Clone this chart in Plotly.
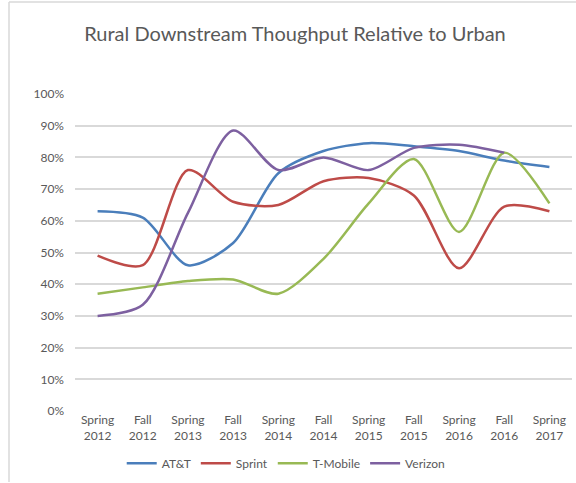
import plotly.graph_objects as go

# survey periods
periods = ['Spring<br>2012', 'Fall<br>2012', 'Spring<br>2013', 'Fall<br>2013', 'Spring<br>2014',
           'Fall<br>2014', 'Spring<br>2015', 'Fall<br>2015', 'Spring<br>2016', 'Fall<br>2016',
           'Spring<br>2017']

# rural throughput as share of urban
att = [0.63, 0.61, 0.46, 0.53, 0.75, 0.82, 0.845, 0.835, 0.82, 0.79, 0.77]
sprint = [0.49, 0.46, 0.76, 0.66, 0.65, 0.725, 0.735, 0.68, 0.45, 0.645, 0.63]
tmobile = [0.37, 0.39, 0.41, 0.415, 0.37, 0.48, 0.655, 0.795, 0.565, 0.815, 0.655]
verizon = [0.30, 0.335, 0.625, 0.885, 0.76, 0.80, 0.76, 0.83, 0.84, 0.815, None]

series = [('AT&T', att, '#4A7EBB'),
          ('Sprint', sprint, '#BE4B48'),
          ('T-Mobile', tmobile, '#98B954'),
          ('Verizon', verizon, '#7D60A0')]

font_family = 'Lato, Open Sans, sans-serif'
text_color = '#595959'

fig = go.Figure()
for name, vals, color in series:
    fig.add_trace(go.Scatter(
        x=periods, y=vals, name=name, mode='lines',
        line=dict(color=color, width=2.5, shape='spline', smoothing=0.8),
        connectgaps=False,
    ))

fig.update_layout(
    width=576, height=483,
    margin=dict(l=75, r=4, t=94, b=72),
    paper_bgcolor='white', plot_bgcolor='white',
    font=dict(family=font_family, color=text_color, size=12),
    title=dict(text='Rural Downstream Thoughput Relative to Urban',
               x=295 / 576, xanchor='center', y=1 - 34 / 483, yanchor='middle',
               font=dict(size=20, color=text_color)),
    showlegend=True,
    legend=dict(orientation='h', x=0.425, xanchor='center', y=-0.165, yanchor='middle',
                font=dict(size=12, color=text_color), itemwidth=30,
                tracegroupgap=0, traceorder='normal'),
    xaxis=dict(range=[-0.5, 10.5], showgrid=False, zeroline=False, showline=False,
               ticks='', tickfont=dict(size=12, color=text_color)),
    yaxis=dict(range=[0, 1], dtick=0.1, tickformat='.0%', showgrid=True,
               gridcolor='#D9D9D9', gridwidth=1.5, zeroline=False, showline=False,
               ticks='', ticklabelstandoff=10, tickfont=dict(size=12, color=text_color)),
    shapes=[
        dict(type='line', xref='paper', yref='paper',
             x0=(9 - 75) / 497, x1=(9 - 75) / 497, y0=(411 - 2) / 317, y1=(411 - 482) / 317,
             line=dict(color='#D9D9D9', width=1.5)),
        dict(type='line', xref='paper', yref='paper',
             x0=(9 - 75) / 497, x1=(580 - 75) / 497, y0=(411 - 2) / 317, y1=(411 - 2) / 317,
             line=dict(color='#D9D9D9', width=1.5)),
    ],
)

# page body has a default 8px margin; drop it so the figure sits at the window corner
fig.write_html('out.html', config={'displayModeBar': False},
               post_script="document.body.style.margin='0px';")
